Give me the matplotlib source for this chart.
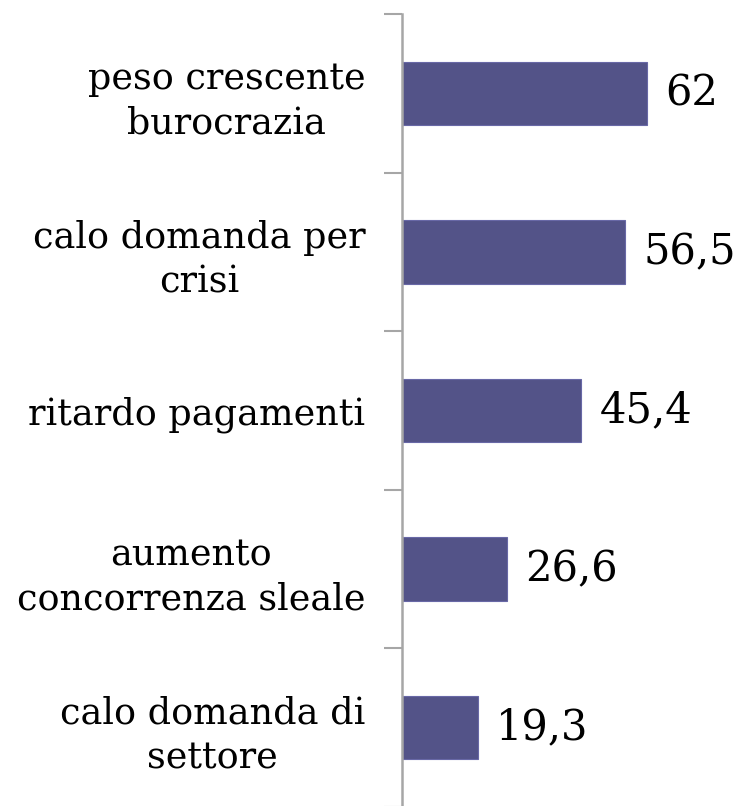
import matplotlib.pyplot as plt
import numpy as np

categories = ["peso crescente\nburocrazia", "calo domanda per\ncrisi", "ritardo pagamenti",
              "aumento\nconcorrenza sleale", "calo domanda di\nsettore"]
values = [62, 56.5, 45.4, 26.6, 19.3]
value_labels = ["62", "56,5", "45,4", "26,6", "19,3"]

W, H = 737, 806
fig = plt.figure(figsize=(W / 100, H / 100), dpi=100)
ax = fig.add_axes([402 / W, -1 / H, 335 / W, 793 / H])

y = np.arange(len(values))
ax.barh(y, values, height=0.40, color="#535388", edgecolor="#6868a6", linewidth=0.8)
ax.set_xlim(0, 335 / 3.95)
ax.set_ylim(len(values) - 0.5, -0.5)

for yi, v, lab in zip(y, values, value_labels):
    ax.text(v + 18 / 3.95, yi, lab, va="center", ha="left", fontsize=30,
            family="DejaVu Serif", color="black")

for s in ["top", "right", "bottom"]:
    ax.spines[s].set_visible(False)
ax.spines["left"].set_color("#a6a6a6")
ax.spines["left"].set_linewidth(1.8)
ax.set_xticks([])
ax.set_yticks(y)
ax.set_yticklabels(categories, fontsize=26.3, family="DejaVu Serif",
                   multialignment="center", linespacing=1.3)
ax.tick_params(axis="y", which="major", length=0, pad=26.5)
ax.set_yticks(np.arange(len(values) + 1) - 0.5, minor=True)
ax.tick_params(axis="y", which="minor", length=13, width=1.5, color="#a6a6a6")

fig.savefig("out.png", dpi=100)
